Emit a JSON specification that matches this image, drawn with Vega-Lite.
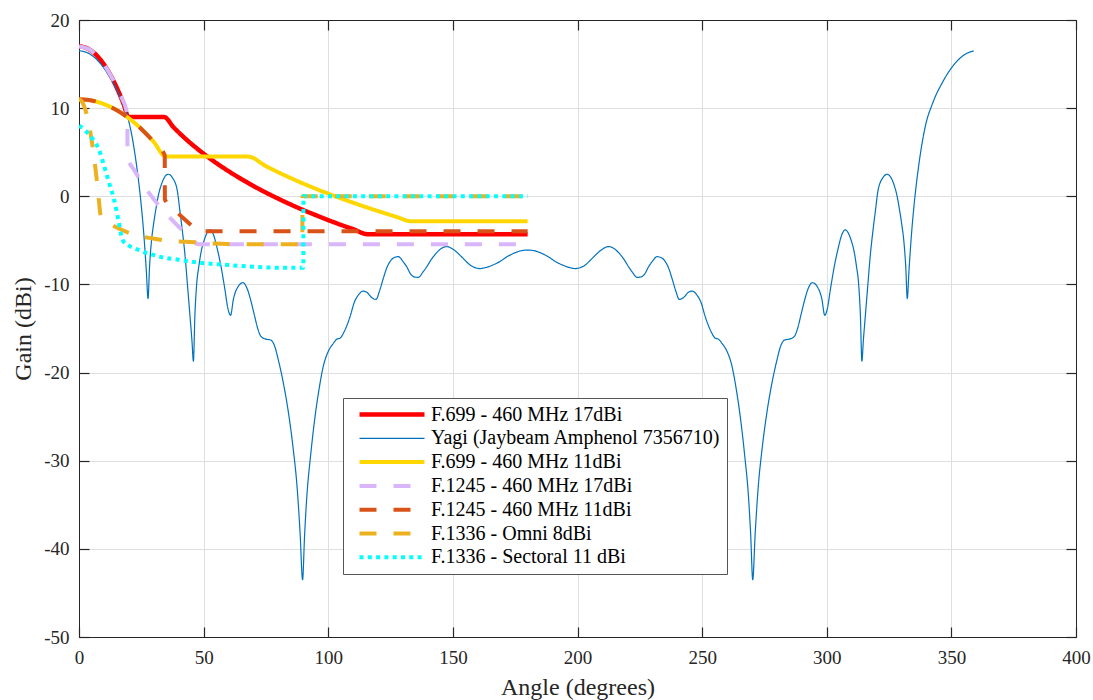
{
  "$schema": "https://vega.github.io/schema/vega-lite/v6.json",
  "width": 997,
  "height": 617,
  "autosize": "none",
  "padding": {"left": 79, "top": 20, "right": 17, "bottom": 63},
  "background": "white",
  "config": {
    "font": "Liberation Serif",
    "view": {"stroke": "#262626", "strokeWidth": 1},
    "axis": {
      "labelFont": "Liberation Serif",
      "labelFontSize": 19,
      "labelColor": "#262626",
      "labelFlush": false,
      "labelOverlap": false,
      "titleFont": "Liberation Serif",
      "titleFontSize": 24,
      "titleFontWeight": "normal",
      "titleColor": "#262626",
      "domainColor": "#262626",
      "tickColor": "#262626",
      "tickWidth": 1.2,
      "gridColor": "#dfdfdf"
    }
  },
  "datasets": {
    "names": [
      {"s": "A", "name": "F.699 - 460 MHz 17dBi"},
      {"s": "B", "name": "Yagi (Jaybeam Amphenol 7356710)"},
      {"s": "C", "name": "F.699 - 460 MHz 11dBi"},
      {"s": "D", "name": "F.1245 - 460 MHz 17dBi"},
      {"s": "E", "name": "F.1245 - 460 MHz 11dBi"},
      {"s": "F", "name": "F.1336 - Omni 8dBi"},
      {"s": "G", "name": "F.1336 - Sectoral 11 dBi"}
    ],
    "gain": [
      {"s": "A", "x": 0, "y": 17}, {"s": "A", "x": 2, "y": 16.92}, {"s": "A", "x": 4, "y": 16.67}, {"s": "A", "x": 6, "y": 16.27},
      {"s": "A", "x": 8, "y": 15.69}, {"s": "A", "x": 10, "y": 14.96}, {"s": "A", "x": 12, "y": 14.06}, {"s": "A", "x": 14, "y": 13.0},
      {"s": "A", "x": 16, "y": 11.78}, {"s": "A", "x": 18, "y": 10.39}, {"s": "A", "x": 19.8, "y": 9.0}, {"s": "A", "x": 34.1, "y": 9.0},
      {"s": "A", "x": 38, "y": 7.81}, {"s": "A", "x": 42, "y": 6.72}, {"s": "A", "x": 46, "y": 5.73}, {"s": "A", "x": 50, "y": 4.83},
      {"s": "A", "x": 55, "y": 3.79}, {"s": "A", "x": 60, "y": 2.85}, {"s": "A", "x": 65, "y": 1.98}, {"s": "A", "x": 70, "y": 1.17},
      {"s": "A", "x": 75, "y": 0.42}, {"s": "A", "x": 80, "y": -0.28}, {"s": "A", "x": 85, "y": -0.94}, {"s": "A", "x": 90, "y": -1.56},
      {"s": "A", "x": 95, "y": -2.14}, {"s": "A", "x": 100, "y": -2.7}, {"s": "A", "x": 105, "y": -3.23}, {"s": "A", "x": 110, "y": -3.73},
      {"s": "A", "x": 116, "y": -4.31}, {"s": "A", "x": 180, "y": -4.31},

      {"s": "B", "x": 0, "y": 16.5}, {"s": "B", "x": 2, "y": 16.42}, {"s": "B", "x": 4, "y": 16.19}, {"s": "B", "x": 6, "y": 15.8},
      {"s": "B", "x": 8, "y": 15.25}, {"s": "B", "x": 10, "y": 14.55}, {"s": "B", "x": 12, "y": 13.7}, {"s": "B", "x": 14, "y": 12.7},
      {"s": "B", "x": 16, "y": 11.6}, {"s": "B", "x": 18, "y": 10.2}, {"s": "B", "x": 19.8, "y": 8.7}, {"s": "B", "x": 21, "y": 7.2},
      {"s": "B", "x": 22, "y": 5.6}, {"s": "B", "x": 23, "y": 3.7}, {"s": "B", "x": 24, "y": 1.5}, {"s": "B", "x": 25, "y": -1.1},
      {"s": "B", "x": 26, "y": -4.3}, {"s": "B", "x": 27, "y": -8.4}, {"s": "B", "x": 27.7, "y": -11.6}, {"s": "B", "x": 28.3, "y": -8.0},
      {"s": "B", "x": 29, "y": -5.3}, {"s": "B", "x": 30, "y": -3.0}, {"s": "B", "x": 31, "y": -1.2}, {"s": "B", "x": 32, "y": 0.3},
      {"s": "B", "x": 33, "y": 1.3}, {"s": "B", "x": 34, "y": 2.0}, {"s": "B", "x": 35.8, "y": 2.5}, {"s": "B", "x": 37.5, "y": 2.1},
      {"s": "B", "x": 39.4, "y": 0.7}, {"s": "B", "x": 40.5, "y": -1.7}, {"s": "B", "x": 41.5, "y": -4.0}, {"s": "B", "x": 42.5, "y": -6.6},
      {"s": "B", "x": 43.5, "y": -10.0}, {"s": "B", "x": 44.5, "y": -13.5}, {"s": "B", "x": 45.3, "y": -16.3}, {"s": "B", "x": 45.9, "y": -18.7},
      {"s": "B", "x": 46.5, "y": -13.5}, {"s": "B", "x": 47.2, "y": -10.0}, {"s": "B", "x": 48.1, "y": -7.9}, {"s": "B", "x": 49, "y": -6.3},
      {"s": "B", "x": 50.2, "y": -5.0}, {"s": "B", "x": 51.3, "y": -4.2}, {"s": "B", "x": 52.6, "y": -3.8}, {"s": "B", "x": 54, "y": -4.4},
      {"s": "B", "x": 55.5, "y": -6.0}, {"s": "B", "x": 57, "y": -8.0}, {"s": "B", "x": 58.5, "y": -10.5}, {"s": "B", "x": 59.8, "y": -12.8},
      {"s": "B", "x": 60.8, "y": -13.5}, {"s": "B", "x": 62, "y": -11.6}, {"s": "B", "x": 63.5, "y": -10.4}, {"s": "B", "x": 65.8, "y": -9.8},
      {"s": "B", "x": 67.5, "y": -10.5}, {"s": "B", "x": 68.9, "y": -11.8}, {"s": "B", "x": 70.3, "y": -13.4}, {"s": "B", "x": 71.5, "y": -14.8},
      {"s": "B", "x": 73, "y": -15.9}, {"s": "B", "x": 74.9, "y": -16.2}, {"s": "B", "x": 76.9, "y": -16.3}, {"s": "B", "x": 78.5, "y": -17.0},
      {"s": "B", "x": 80, "y": -18.6}, {"s": "B", "x": 82, "y": -21.2}, {"s": "B", "x": 84, "y": -24.5}, {"s": "B", "x": 86, "y": -28.8},
      {"s": "B", "x": 87.5, "y": -33.0}, {"s": "B", "x": 88.7, "y": -38.2}, {"s": "B", "x": 89.7, "y": -43.5}, {"s": "B", "x": 90.5, "y": -38.5},
      {"s": "B", "x": 91.3, "y": -34.5}, {"s": "B", "x": 93, "y": -29.2}, {"s": "B", "x": 94.7, "y": -25.0}, {"s": "B", "x": 96.3, "y": -21.9},
      {"s": "B", "x": 98, "y": -19.3}, {"s": "B", "x": 100, "y": -17.6}, {"s": "B", "x": 102, "y": -16.7}, {"s": "B", "x": 103.5, "y": -16.2},
      {"s": "B", "x": 104.7, "y": -16.1}, {"s": "B", "x": 106.5, "y": -15.3}, {"s": "B", "x": 108.7, "y": -13.7}, {"s": "B", "x": 110.5, "y": -12.0},
      {"s": "B", "x": 112.1, "y": -11.2}, {"s": "B", "x": 114, "y": -10.75}, {"s": "B", "x": 115.5, "y": -10.9}, {"s": "B", "x": 117.5, "y": -11.5},
      {"s": "B", "x": 119.2, "y": -11.7}, {"s": "B", "x": 120.5, "y": -10.8}, {"s": "B", "x": 122.1, "y": -9.3}, {"s": "B", "x": 123.5, "y": -8.1},
      {"s": "B", "x": 124.8, "y": -7.4}, {"s": "B", "x": 126.5, "y": -6.95}, {"s": "B", "x": 128.1, "y": -6.85}, {"s": "B", "x": 130, "y": -7.4},
      {"s": "B", "x": 131.5, "y": -8.0}, {"s": "B", "x": 133, "y": -8.8}, {"s": "B", "x": 134.5, "y": -9.15}, {"s": "B", "x": 136.1, "y": -9.2},
      {"s": "B", "x": 138, "y": -8.6}, {"s": "B", "x": 139.5, "y": -8.0}, {"s": "B", "x": 141.5, "y": -7.1}, {"s": "B", "x": 143.5, "y": -6.4},
      {"s": "B", "x": 145.5, "y": -5.9}, {"s": "B", "x": 147.5, "y": -5.7}, {"s": "B", "x": 150, "y": -6.0}, {"s": "B", "x": 152.9, "y": -6.7},
      {"s": "B", "x": 155, "y": -7.3}, {"s": "B", "x": 156.9, "y": -7.8}, {"s": "B", "x": 159, "y": -8.1}, {"s": "B", "x": 160.9, "y": -8.2},
      {"s": "B", "x": 163, "y": -8.1}, {"s": "B", "x": 166, "y": -7.8}, {"s": "B", "x": 168.9, "y": -7.4}, {"s": "B", "x": 171.5, "y": -6.9},
      {"s": "B", "x": 174.2, "y": -6.5}, {"s": "B", "x": 177, "y": -6.2}, {"s": "B", "x": 180, "y": -6.1},
      {"s": "B", "x": 183, "y": -6.2}, {"s": "B", "x": 185.8, "y": -6.5}, {"s": "B", "x": 188.5, "y": -6.9}, {"s": "B", "x": 191.1, "y": -7.4},
      {"s": "B", "x": 194, "y": -7.8}, {"s": "B", "x": 197, "y": -8.1}, {"s": "B", "x": 199.1, "y": -8.2}, {"s": "B", "x": 201, "y": -8.1},
      {"s": "B", "x": 203.1, "y": -7.8}, {"s": "B", "x": 205, "y": -7.3}, {"s": "B", "x": 207.1, "y": -6.7}, {"s": "B", "x": 210, "y": -6.0},
      {"s": "B", "x": 212.5, "y": -5.7}, {"s": "B", "x": 214.5, "y": -5.9}, {"s": "B", "x": 216.5, "y": -6.4}, {"s": "B", "x": 218.5, "y": -7.1},
      {"s": "B", "x": 220.5, "y": -8.0}, {"s": "B", "x": 222, "y": -8.6}, {"s": "B", "x": 223.9, "y": -9.2}, {"s": "B", "x": 225.5, "y": -9.15},
      {"s": "B", "x": 227, "y": -8.8}, {"s": "B", "x": 228.5, "y": -8.0}, {"s": "B", "x": 230, "y": -7.4}, {"s": "B", "x": 231.9, "y": -6.85},
      {"s": "B", "x": 233.5, "y": -6.95}, {"s": "B", "x": 235.2, "y": -7.4}, {"s": "B", "x": 236.5, "y": -8.1}, {"s": "B", "x": 237.9, "y": -9.3},
      {"s": "B", "x": 239.5, "y": -10.8}, {"s": "B", "x": 240.8, "y": -11.7}, {"s": "B", "x": 242.5, "y": -11.5}, {"s": "B", "x": 244.5, "y": -10.9},
      {"s": "B", "x": 246, "y": -10.75}, {"s": "B", "x": 247.9, "y": -11.2}, {"s": "B", "x": 249.5, "y": -12.0}, {"s": "B", "x": 251.3, "y": -13.7},
      {"s": "B", "x": 253.5, "y": -15.3}, {"s": "B", "x": 255.3, "y": -16.1}, {"s": "B", "x": 256.5, "y": -16.2}, {"s": "B", "x": 258, "y": -16.7},
      {"s": "B", "x": 260, "y": -17.6}, {"s": "B", "x": 262, "y": -19.3}, {"s": "B", "x": 263.7, "y": -21.9}, {"s": "B", "x": 265.3, "y": -25.0},
      {"s": "B", "x": 267, "y": -29.2}, {"s": "B", "x": 268.7, "y": -34.5}, {"s": "B", "x": 269.5, "y": -38.5}, {"s": "B", "x": 270.3, "y": -43.5},
      {"s": "B", "x": 271.3, "y": -38.2}, {"s": "B", "x": 272.5, "y": -33.0}, {"s": "B", "x": 274, "y": -28.8}, {"s": "B", "x": 276, "y": -24.5},
      {"s": "B", "x": 278, "y": -21.2}, {"s": "B", "x": 280, "y": -18.6}, {"s": "B", "x": 281.5, "y": -17.0}, {"s": "B", "x": 283.1, "y": -16.3},
      {"s": "B", "x": 285.1, "y": -16.2}, {"s": "B", "x": 287, "y": -15.9}, {"s": "B", "x": 288.5, "y": -14.8}, {"s": "B", "x": 289.7, "y": -13.4},
      {"s": "B", "x": 291.1, "y": -11.8}, {"s": "B", "x": 292.5, "y": -10.5}, {"s": "B", "x": 294.2, "y": -9.8}, {"s": "B", "x": 296.5, "y": -10.4},
      {"s": "B", "x": 298, "y": -11.6}, {"s": "B", "x": 299.2, "y": -13.5}, {"s": "B", "x": 300.2, "y": -12.8}, {"s": "B", "x": 301.5, "y": -10.5},
      {"s": "B", "x": 303, "y": -8.0}, {"s": "B", "x": 304.5, "y": -6.0}, {"s": "B", "x": 306, "y": -4.4}, {"s": "B", "x": 307.4, "y": -3.8},
      {"s": "B", "x": 308.7, "y": -4.2}, {"s": "B", "x": 309.8, "y": -5.0}, {"s": "B", "x": 311, "y": -6.3}, {"s": "B", "x": 311.9, "y": -7.9},
      {"s": "B", "x": 312.8, "y": -10.0}, {"s": "B", "x": 313.5, "y": -13.5}, {"s": "B", "x": 314.1, "y": -18.7}, {"s": "B", "x": 314.7, "y": -16.3},
      {"s": "B", "x": 315.5, "y": -13.5}, {"s": "B", "x": 316.5, "y": -10.0}, {"s": "B", "x": 317.5, "y": -6.6}, {"s": "B", "x": 318.5, "y": -4.0},
      {"s": "B", "x": 319.5, "y": -1.7}, {"s": "B", "x": 320.6, "y": 0.7}, {"s": "B", "x": 322.5, "y": 2.1}, {"s": "B", "x": 324.2, "y": 2.5},
      {"s": "B", "x": 326, "y": 2.0}, {"s": "B", "x": 327, "y": 1.3}, {"s": "B", "x": 328, "y": 0.3}, {"s": "B", "x": 329, "y": -1.2},
      {"s": "B", "x": 330, "y": -3.0}, {"s": "B", "x": 331, "y": -5.3}, {"s": "B", "x": 331.7, "y": -8.0}, {"s": "B", "x": 332.3, "y": -11.6},
      {"s": "B", "x": 333, "y": -8.4}, {"s": "B", "x": 334, "y": -4.3}, {"s": "B", "x": 335, "y": -1.1}, {"s": "B", "x": 336, "y": 1.5},
      {"s": "B", "x": 337, "y": 3.7}, {"s": "B", "x": 338, "y": 5.6}, {"s": "B", "x": 339, "y": 7.2}, {"s": "B", "x": 340.2, "y": 8.7},
      {"s": "B", "x": 342, "y": 10.2}, {"s": "B", "x": 344, "y": 11.6}, {"s": "B", "x": 346, "y": 12.7}, {"s": "B", "x": 348, "y": 13.7},
      {"s": "B", "x": 350, "y": 14.55}, {"s": "B", "x": 352, "y": 15.25}, {"s": "B", "x": 354, "y": 15.8}, {"s": "B", "x": 356, "y": 16.19},
      {"s": "B", "x": 358, "y": 16.42}, {"s": "B", "x": 359, "y": 16.48},

      {"s": "C", "x": 0, "y": 11}, {"s": "C", "x": 5, "y": 10.87}, {"s": "C", "x": 10, "y": 10.46}, {"s": "C", "x": 15, "y": 9.79},
      {"s": "C", "x": 20, "y": 8.85}, {"s": "C", "x": 25, "y": 7.64}, {"s": "C", "x": 30, "y": 6.17}, {"s": "C", "x": 34.8, "y": 4.5},
      {"s": "C", "x": 67.9, "y": 4.5}, {"s": "C", "x": 75, "y": 3.42}, {"s": "C", "x": 80, "y": 2.72}, {"s": "C", "x": 90, "y": 1.44},
      {"s": "C", "x": 100, "y": 0.3}, {"s": "C", "x": 110, "y": -0.73}, {"s": "C", "x": 120, "y": -1.68}, {"s": "C", "x": 127, "y": -2.3},
      {"s": "C", "x": 133.5, "y": -2.84}, {"s": "C", "x": 180, "y": -2.84},

      {"s": "D", "x": 0, "y": 17}, {"s": "D", "x": 4, "y": 16.67}, {"s": "D", "x": 8, "y": 15.69}, {"s": "D", "x": 12, "y": 14.06},
      {"s": "D", "x": 16, "y": 11.78}, {"s": "D", "x": 19.4, "y": 9.32}, {"s": "D", "x": 19.45, "y": 4.4}, {"s": "D", "x": 22, "y": 3.04},
      {"s": "D", "x": 25, "y": 1.65}, {"s": "D", "x": 28, "y": 0.42}, {"s": "D", "x": 32, "y": -1.03}, {"s": "D", "x": 36, "y": -2.31},
      {"s": "D", "x": 40, "y": -3.45}, {"s": "D", "x": 44, "y": -4.49}, {"s": "D", "x": 48, "y": -5.43}, {"s": "D", "x": 180, "y": -5.43},

      {"s": "E", "x": 0, "y": 11}, {"s": "E", "x": 5, "y": 10.87}, {"s": "E", "x": 10, "y": 10.46}, {"s": "E", "x": 15, "y": 9.79},
      {"s": "E", "x": 20, "y": 8.85}, {"s": "E", "x": 25, "y": 7.64}, {"s": "E", "x": 30, "y": 6.17}, {"s": "E", "x": 34.4, "y": 4.65},
      {"s": "E", "x": 34.45, "y": -0.36}, {"s": "E", "x": 38, "y": -1.43}, {"s": "E", "x": 42, "y": -2.52}, {"s": "E", "x": 45, "y": -3.27},
      {"s": "E", "x": 48, "y": -3.97}, {"s": "E", "x": 180, "y": -3.97},

      {"s": "F", "x": 0, "y": 11}, {"s": "F", "x": 1, "y": 10.82}, {"s": "F", "x": 2, "y": 10.28}, {"s": "F", "x": 3, "y": 9.38},
      {"s": "F", "x": 4, "y": 8.12}, {"s": "F", "x": 5, "y": 6.5}, {"s": "F", "x": 6, "y": 4.52}, {"s": "F", "x": 7, "y": 2.18},
      {"s": "F", "x": 8, "y": -0.52}, {"s": "F", "x": 8.7, "y": -2.2}, {"s": "F", "x": 10, "y": -2.6}, {"s": "F", "x": 12, "y": -3.05},
      {"s": "F", "x": 16, "y": -3.65}, {"s": "F", "x": 22, "y": -4.35}, {"s": "F", "x": 30, "y": -4.8}, {"s": "F", "x": 36, "y": -5.05},
      {"s": "F", "x": 43, "y": -5.15}, {"s": "F", "x": 50, "y": -5.3}, {"s": "F", "x": 60, "y": -5.42}, {"s": "F", "x": 89.6, "y": -5.45},
      {"s": "F", "x": 89.65, "y": 0}, {"s": "F", "x": 180, "y": 0},

      {"s": "G", "x": 0, "y": 8.0}, {"s": "G", "x": 2, "y": 7.6}, {"s": "G", "x": 4, "y": 7.0}, {"s": "G", "x": 6, "y": 6.3},
      {"s": "G", "x": 8, "y": 5.3}, {"s": "G", "x": 10, "y": 3.5}, {"s": "G", "x": 12, "y": 1.6}, {"s": "G", "x": 14, "y": -0.3},
      {"s": "G", "x": 16, "y": -3.0}, {"s": "G", "x": 17, "y": -4.5}, {"s": "G", "x": 18, "y": -5.2}, {"s": "G", "x": 20, "y": -5.6},
      {"s": "G", "x": 24, "y": -6.1}, {"s": "G", "x": 28, "y": -6.5}, {"s": "G", "x": 33, "y": -6.9}, {"s": "G", "x": 40, "y": -7.2},
      {"s": "G", "x": 47, "y": -7.5}, {"s": "G", "x": 55, "y": -7.7}, {"s": "G", "x": 60, "y": -7.8}, {"s": "G", "x": 70, "y": -8.0},
      {"s": "G", "x": 80, "y": -8.1}, {"s": "G", "x": 90, "y": -8.1}, {"s": "G", "x": 90.05, "y": 0}, {"s": "G", "x": 180, "y": 0}
    ]
  },
  "layer": [
    {
      "data": {"name": "gain"},
      "transform": [
        {"lookup": "s", "from": {"data": {"name": "names"}, "key": "s", "fields": ["name"]}}
      ],
      "mark": {"type": "line", "interpolate": "monotone", "strokeCap": "butt", "clip": true},
      "encoding": {
        "x": {
          "field": "x", "type": "quantitative",
          "scale": {"domain": [0, 400], "nice": false},
          "axis": {"orient": "bottom", "values": [0, 50, 100, 150, 200, 250, 300, 350, 400], "domain": true, "ticks": false, "labelPadding": 11, "title": "Angle (degrees)", "titlePadding": 8}
        },
        "y": {
          "field": "y", "type": "quantitative",
          "scale": {"domain": [-50, 20], "nice": false},
          "axis": {"orient": "left", "values": [-50, -40, -30, -20, -10, 0, 10, 20], "domain": true, "ticks": false, "labelPadding": 10, "labelExpr": "'' + datum.value", "title": "Gain (dBi)", "titlePadding": 8}
        },
        "color": {
          "field": "name", "type": "nominal",
          "scale": {
            "domain": ["F.699 - 460 MHz 17dBi", "Yagi (Jaybeam Amphenol 7356710)", "F.699 - 460 MHz 11dBi", "F.1245 - 460 MHz 17dBi", "F.1245 - 460 MHz 11dBi", "F.1336 - Omni 8dBi", "F.1336 - Sectoral 11 dBi"],
            "range": ["#FF0000", "#0072BD", "#FFD700", "#D9B6FA", "#D95319", "#EDB120", "#00FFFF"]
          },
          "legend": {
            "orient": "none", "legendX": 264, "legendY": 378, "title": null,
            "symbolType": "stroke", "symbolSize": 4225, "symbolOffset": 8,
            "clipHeight": 21, "rowPadding": 2.8, "padding": 6,
            "labelFontSize": 20, "labelFont": "Liberation Serif", "labelOffset": 4,
            "labelColor": "#000000", "labelLimit": 0, "strokeColor": "#555555", "fillColor": "#ffffff"
          }
        },
        "strokeDash": {
          "field": "name", "type": "nominal",
          "scale": {
            "domain": ["F.699 - 460 MHz 17dBi", "Yagi (Jaybeam Amphenol 7356710)", "F.699 - 460 MHz 11dBi", "F.1245 - 460 MHz 17dBi", "F.1245 - 460 MHz 11dBi", "F.1336 - Omni 8dBi", "F.1336 - Sectoral 11 dBi"],
            "range": [[1, 0], [1, 0], [1, 0], [17, 17], [17, 17], [17, 17], [4, 4.3]]
          }
        },
        "strokeWidth": {
          "field": "name", "type": "nominal",
          "scale": {
            "type": "ordinal",
            "domain": ["F.699 - 460 MHz 17dBi", "Yagi (Jaybeam Amphenol 7356710)", "F.699 - 460 MHz 11dBi", "F.1245 - 460 MHz 17dBi", "F.1245 - 460 MHz 11dBi", "F.1336 - Omni 8dBi", "F.1336 - Sectoral 11 dBi"],
            "range": [4.5, 1.2, 4, 4, 4, 4, 4]
          }
        }
      }
    },
    {
      "data": {"values": [{"x": 0, "y": 0}]},
      "mark": {"type": "point", "opacity": 0},
      "encoding": {
        "x": {
          "field": "x", "type": "quantitative",
          "axis": {"orient": "bottom", "offset": -10, "tickSize": 10, "domain": false, "values": [0, 50, 100, 150, 200, 250, 300, 350, 400], "labels": false, "grid": false, "title": null}
        },
        "y": {
          "field": "y", "type": "quantitative",
          "axis": {"orient": "left", "offset": -10, "tickSize": 10, "domain": false, "values": [-50, -40, -30, -20, -10, 0, 10, 20], "labels": false, "grid": false, "title": null}
        }
      }
    },
    {
      "data": {"values": [{"x": 0, "y": 0}]},
      "mark": {"type": "point", "opacity": 0},
      "encoding": {
        "x": {
          "field": "x", "type": "quantitative",
          "axis": {"orient": "top", "offset": -10, "tickSize": 10, "domain": false, "values": [0, 50, 100, 150, 200, 250, 300, 350, 400], "labels": false, "grid": false, "title": null}
        },
        "y": {
          "field": "y", "type": "quantitative",
          "axis": {"orient": "right", "offset": -10, "tickSize": 10, "domain": false, "values": [-50, -40, -30, -20, -10, 0, 10, 20], "labels": false, "grid": false, "title": null}
        }
      }
    },
    {
      "data": {"values": [{"x": 0, "y": 0}]},
      "mark": {"type": "point", "opacity": 0},
      "encoding": {
        "x": {
          "field": "x", "type": "quantitative",
          "axis": {"orient": "top", "domain": true, "ticks": false, "labels": false, "grid": false, "title": null}
        },
        "y": {
          "field": "y", "type": "quantitative",
          "axis": {"orient": "right", "domain": true, "ticks": false, "labels": false, "grid": false, "title": null}
        }
      }
    }
  ],
  "resolve": {"axis": {"x": "independent", "y": "independent"}}
}
